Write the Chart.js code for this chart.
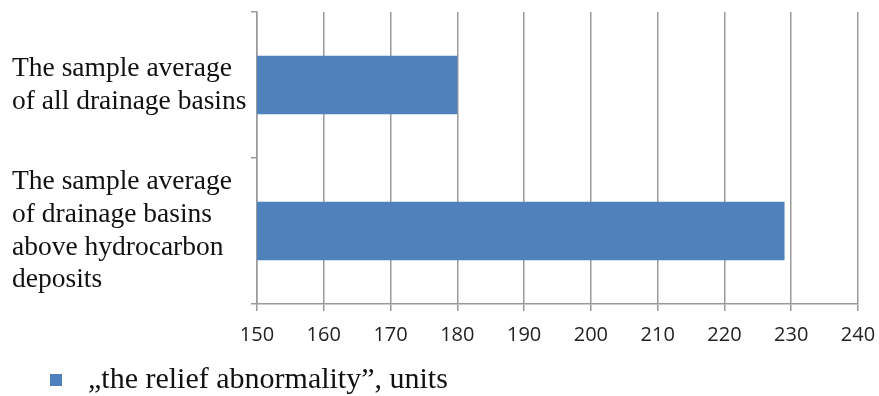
<!DOCTYPE html>
<html>
<head>
<meta charset="utf-8">
<script src="https://cdn.jsdelivr.net/npm/chart.js@4"></script>
<style>
  html, body { margin: 0; padding: 0; background: #fff; }
  #wrap { width: 879px; height: 396px; }
</style>
</head>
<body>
<div id="wrap"><canvas id="relief"></canvas></div>
<script>
// basins compared, one label line per array item
const basins = [
  ['The sample average', 'of all drainage basins'],
  ['The sample average', 'of drainage basins', 'above hydrocarbon', 'deposits']
];
const relief = [180, 229];
const seriesName = '\u201Ethe relief abnormality\u201D, units';
const xTicks = { min: 150, max: 240, step: 10 };

const blue = '#4F81BD';
const gridGray = '#9a9a9a';

// legend marker: 12px square sitting at the right end of a wider transparent strip
const marker = document.createElement('canvas');
marker.width = 22;
marker.height = 12;
const mctx = marker.getContext('2d');
mctx.fillStyle = blue;
mctx.fillRect(10, 0, 12, 12);

Chart.defaults.color = '#111';
Chart.defaults.font.family = 'Liberation Serif';

new Chart(document.getElementById('relief'), {
  type: 'bar',
  data: {
    labels: basins,
    datasets: [{
      label: seriesName,
      data: relief,
      backgroundColor: blue,
      borderWidth: 0,
      categoryPercentage: 0.8,
      barPercentage: 0.5
    }]
  },
  options: {
    indexAxis: 'y',
    responsive: true,
    maintainAspectRatio: false,
    animation: false,
    layout: { padding: { top: 12, left: 12, right: 21, bottom: 0 } },
    plugins: {
      tooltip: { enabled: false },
      legend: {
        position: 'bottom',
        align: 'start',
        maxHeight: 48,
        labels: {
          usePointStyle: true,
          pointStyle: marker,
          pointStyleWidth: 44,
          boxHeight: 12,
          padding: 17,
          color: '#111',
          font: { family: 'Liberation Serif', size: 30 }
        }
      }
    },
    scales: {
      x: {
        min: xTicks.min,
        max: xTicks.max,
        ticks: {
          stepSize: xTicks.step,
          padding: 12,
          color: '#222',
          font: { family: 'Open Sans', size: 20 }
        },
        grid: { color: gridGray, lineWidth: 1.5, tickLength: 7 },
        border: { color: gridGray, width: 1.5 },
        afterFit: (axis) => {
          axis.height = 44;
          axis.paddingLeft = 0;
          axis.paddingRight = 0;
        }
      },
      y: {
        ticks: {
          autoSkip: false,
          crossAlign: 'far',
          color: '#111',
          font: { family: 'Liberation Serif', size: 27.5, lineHeight: 1.19 }
        },
        grid: { drawOnChartArea: false, offset: true, color: gridGray, lineWidth: 1.5, tickLength: 6 },
        border: { color: gridGray, width: 1.5 },
        afterFit: (axis) => {
          axis.width = 245;
          axis.paddingTop = 0;
          axis.paddingBottom = 0;
        }
      }
    }
  }
});
</script>
</body>
</html>
